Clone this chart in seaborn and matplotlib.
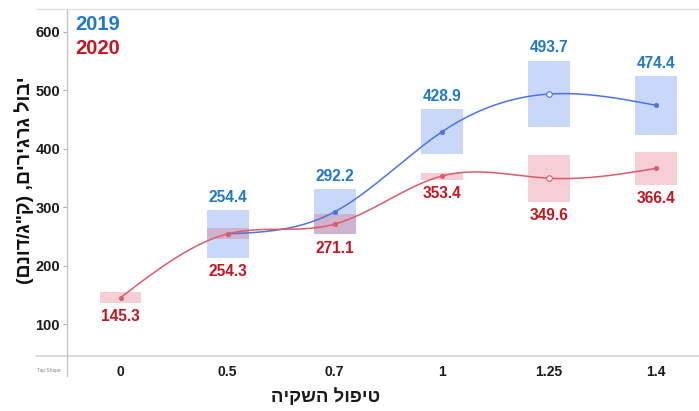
import numpy as np
import pandas as pd
import matplotlib
matplotlib.use("Agg")
import matplotlib.pyplot as plt
from matplotlib.lines import Line2D
import seaborn as sns

# Irrigation treatments (categories on the x axis)
treatments = ["0", "0.5", "0.7", "1", "1.25", "1.4"]

# Mean grain yield (kg/dunam) per season; 2019 has no value for treatment 0
yield_2019 = [np.nan, 254.4, 292.2, 428.9, 493.7, 474.4]
yield_2020 = [145.3, 254.3, 271.1, 353.4, 349.6, 366.4]

# Half height of the shaded spread band around each mean
spread_2019 = [np.nan, 40.5, 38.5, 38.5, 57.0, 50.0]
spread_2020 = [9.2, 9.5, 17.0, 6.0, 40.0, 28.0]

# Treatments drawn with an open marker
open_marker = [False, False, False, False, True, False]

seasons = ["2019", "2020"]
y_ticks = [100, 200, 300, 400, 500, 600]

BLUE_TXT = "#1f78c8"
RED_TXT = "#c8141f"
BLUE_BOX = "#4e7de9"
RED_BOX = "#e0506a"
BLUE_LINE = "#4a74e6"
RED_LINE = "#de5a6a"

sns.set_theme(style="white")
plt.rcParams["font.family"] = ["Liberation Sans", "DejaVu Sans"]


def rtl(s):
    """Lay out a Hebrew string visually for left-to-right rendering."""
    s = s[::-1]
    return s.translate(str.maketrans("()", ")("))


def natural_spline(x, y, n=300):
    x = np.asarray(x, float)
    y = np.asarray(y, float)
    k = len(x)
    h = np.diff(x)
    A = np.zeros((k, k))
    b = np.zeros(k)
    A[0, 0] = A[-1, -1] = 1.0
    for i in range(1, k - 1):
        A[i, i - 1] = h[i - 1]
        A[i, i] = 2 * (h[i - 1] + h[i])
        A[i, i + 1] = h[i]
        b[i] = 6 * ((y[i + 1] - y[i]) / h[i] - (y[i] - y[i - 1]) / h[i - 1])
    M = np.linalg.solve(A, b)
    xs = np.linspace(x[0], x[-1], n)
    ys = np.empty_like(xs)
    for j, t in enumerate(xs):
        i = min(np.searchsorted(x, t, side="right") - 1, k - 2)
        a, c = x[i], x[i + 1]
        hi = c - a
        ys[j] = (M[i] * (c - t) ** 3 / (6 * hi) + M[i + 1] * (t - a) ** 3 / (6 * hi)
                 + (y[i] / hi - M[i] * hi / 6) * (c - t)
                 + (y[i + 1] / hi - M[i + 1] * hi / 6) * (t - a))
    return xs, ys


W, H = 699, 411
fig = plt.figure(figsize=(W / 100, H / 100), dpi=100)
left, right, top, bottom = 67, 699, 9, 355
ax = fig.add_axes([left / W, 1 - bottom / H, (right - left) / W, (bottom - top) / H])

pos = np.arange(len(treatments))
df = pd.DataFrame({
    "pos": np.concatenate([pos, pos]),
    "yield": yield_2019 + yield_2020,
    "spread": spread_2019 + spread_2020,
    "season": ["2019"] * len(pos) + ["2020"] * len(pos),
    "open": open_marker + open_marker,
})

box_w = 0.39
styles = {
    "2019": dict(box=BLUE_BOX, line=BLUE_LINE, alpha=0.30),
    "2020": dict(box=RED_BOX, line=RED_LINE, alpha=0.28),
}

for season in seasons:
    d = df[(df.season == season) & df["yield"].notna()]
    st = styles[season]
    ax.bar(d.pos, 2 * d.spread, bottom=d["yield"] - d.spread, width=box_w,
           color=st["box"], alpha=st["alpha"], linewidth=0, zorder=1)
    xs, ys = natural_spline(d.pos.values, d["yield"].values)
    ax.plot(xs, ys, color=st["line"], lw=1.1, zorder=2)
    filled = d[~d.open]
    hollow = d[d.open]
    sns.scatterplot(data=filled, x="pos", y="yield", color=st["line"], s=10,
                    edgecolor=st["line"], linewidth=0.5, ax=ax, zorder=3, legend=False)
    sns.scatterplot(data=hollow, x="pos", y="yield", facecolor="#f6f6fb", s=16,
                    edgecolor=st["line"], linewidth=0.8, ax=ax, zorder=3, legend=False)

# Value labels: 2019 above its band, 2020 below the lowest band
lab_kw = dict(ha="center", va="center", fontsize=11.2, fontweight="bold",
              textcoords="offset points")
for i in pos:
    v19, s19 = yield_2019[i], spread_2019[i]
    v20, s20 = yield_2020[i], spread_2020[i]
    if not np.isnan(v19):
        ax.annotate(f"{v19:.1f}", (i, v19 + s19), xytext=(0, 9.2),
                    color=BLUE_TXT, **lab_kw)
    low = v20 - s20
    if not np.isnan(v19):
        low = min(low, v19 - s19)
    ax.annotate(f"{v20:.1f}", (i, low), xytext=(0, -9.9), color=RED_TXT, **lab_kw)

ax.set_xlim(-0.5, (right - 120) / 107.2)
ax.set_ylim(47, 639.3)
ax.set_xticks(pos)
ax.set_xticklabels(treatments, fontsize=10, fontweight="bold", color="#1a1a1a")
ax.set_yticks(y_ticks)
ax.set_yticklabels([str(t) for t in y_ticks], fontsize=10.5, fontweight="bold",
                   color="#1a1a1a")
ax.tick_params(axis="x", length=0, pad=7)
ax.tick_params(axis="y", length=3, width=0.8, color="#b0b0b0", pad=2, left=True)
ax.set_xlabel("")
ax.set_ylabel(rtl('יבול גרגירים, (ק"ג/דונם)'), fontsize=14, fontweight="bold",
              color="#111111")
ax.yaxis.set_label_coords((34 - left) / (right - left), (bottom - 180.5) / (bottom - top))

for sp in ["top", "right", "bottom"]:
    ax.spines[sp].set_visible(False)
ax.spines["left"].set_color("#c4c4c4")
ax.spines["left"].set_linewidth(1.0)

# Frame lines of the table-like layout
def fig_line(x0, y0, x1, y1, color, lw=1.0):
    fig.add_artist(Line2D([x0 / W, x1 / W], [1 - y0 / H, 1 - y1 / H],
                          color=color, lw=lw, transform=fig.transFigure))

fig_line(36, 9.5, 699, 9.5, "#e3e3e3", 1.0)
fig_line(36, 355.5, 699, 355.5, "#d6d6d6", 1.2)
fig_line(67, 355, 67, 376, "#c4c4c4", 1.0)
fig.text(49 / W, 1 - 370 / H, "Tap Shape", fontsize=3.5, color="#888888",
         ha="center", va="center")

# Season key
fig.text(75 / W, 1 - 25 / H, seasons[0], fontsize=14.5, fontweight="bold",
         color=BLUE_TXT, va="center", ha="left")
fig.text(75 / W, 1 - 49 / H, seasons[1], fontsize=14.5, fontweight="bold",
         color=RED_TXT, va="center", ha="left")

fig.text(326 / W, 1 - 397 / H, rtl("טיפול השקיה"), fontsize=13.3,
         fontweight="semibold", color="#1a1a1a", ha="center", va="center")

fig.savefig("out.png", dpi=100, facecolor="white")
